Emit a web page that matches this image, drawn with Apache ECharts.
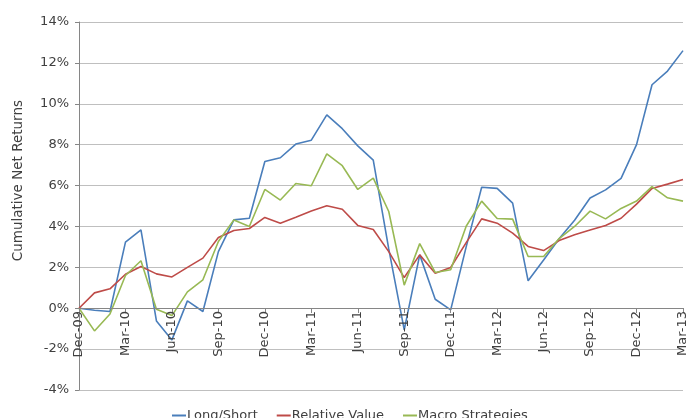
<!DOCTYPE html>
<html>
<head>
<meta charset="utf-8">
<script src="https://cdn.jsdelivr.net/npm/echarts@6/dist/echarts.min.js"></script>
<style>
  html, body { margin: 0; padding: 0; background: #fff; }
  #chart { width: 697px; height: 418px; }
</style>
</head>
<body>
<div id="chart"></div>
<script>
// meses (dic-09 a mar-13)
const months = [
  'Dec-09', 'Jan-10', 'Feb-10', 'Mar-10', 'Apr-10', 'May-10', 'Jun-10', 'Jul-10', 'Aug-10', 'Sep-10',
  'Oct-10', 'Nov-10', 'Dec-10', 'Jan-11', 'Feb-11', 'Mar-11', 'Apr-11', 'May-11', 'Jun-11', 'Jul-11',
  'Aug-11', 'Sep-11', 'Oct-11', 'Nov-11', 'Dec-11', 'Jan-12', 'Feb-12', 'Mar-12', 'Apr-12', 'May-12',
  'Jun-12', 'Jul-12', 'Aug-12', 'Sep-12', 'Oct-12', 'Nov-12', 'Dec-12', 'Jan-13', 'Feb-13', 'Mar-13'
];

// retornos acumulados (%)
const longShort = [
  0, -0.1, -0.16, 3.23, 3.83, -0.62, -1.55, 0.36, -0.16, 2.77,
  4.32, 4.40, 7.18, 7.36, 8.03, 8.22, 9.46, 8.78, 7.94, 7.24,
  2.9, -1.06, 2.61, 0.44, -0.08, 3.0, 5.92, 5.86, 5.14, 1.34,
  2.36, 3.4, 4.3, 5.39, 5.79, 6.35, 8.0, 10.93, 11.6, 12.6
];
const relativeValue = [
  0, 0.75, 0.95, 1.66, 2.04, 1.68, 1.53, 2.0, 2.45, 3.46,
  3.80, 3.90, 4.44, 4.16, 4.45, 4.76, 5.01, 4.84, 4.05, 3.85,
  2.77, 1.50, 2.61, 1.71, 1.99, 3.21, 4.37, 4.16, 3.67, 3.02,
  2.82, 3.31, 3.59, 3.83, 4.05, 4.40, 5.09, 5.86, 6.07, 6.30
];
const macroStrategies = [
  0, -1.11, -0.28, 1.60, 2.32, -0.05, -0.36, 0.80, 1.39, 3.26,
  4.32, 4.0, 5.81, 5.29, 6.10, 5.99, 7.55, 6.97, 5.81, 6.36,
  4.73, 1.13, 3.16, 1.75, 1.88, 4.01, 5.24, 4.39, 4.36, 2.53,
  2.53, 3.41, 4.0, 4.75, 4.37, 4.88, 5.24, 5.95, 5.40, 5.24
];

const seriesNames = ['Long/Short', 'Relative Value', 'Macro Strategies'];
const colors = ['#4a7ebb', '#be4b48', '#98b954'];

const font = 'DejaVu Sans';
const textColor = '#404040';

let chart = echarts.init(document.querySelector('#chart'));

function linea(name, data, color) {
  return {
    name: name,
    type: 'line',
    data: data,
    symbol: 'none',
    lineStyle: { color: color, width: 1.6 },
    itemStyle: { color: color },
    z: 3
  };
}

let option = {
  animation: false,
  color: colors,
  grid: { left: 79, right: 14, top: 22, bottom: 28, containLabel: false, outerBoundsMode: 'none' },
  legend: {
    left: 167,
    top: 404,
    icon: 'rect',
    itemWidth: 14,
    itemHeight: 2,
    itemGap: 19,
    textStyle: { fontFamily: font, fontSize: 13, color: textColor, padding: [0, 0, 0, -4] },
    data: seriesNames
  },
  graphic: [{
    type: 'text',
    left: 11,
    top: 100,
    rotation: Math.PI / 2,
    style: {
      text: 'Cumulative Net Returns',
      font: '13.5px "' + font + '"',
      fill: textColor
    }
  }],
  xAxis: {
    type: 'category',
    data: months,
    boundaryGap: false,
    // el eje de categorias cruza en 0%: se sube con offset
    offset: -82,
    z: 4,
    axisLine: { onZero: false, lineStyle: { color: '#868686', width: 1 } },
    axisTick: { interval: 2, length: 5, lineStyle: { color: '#868686' } },
    axisLabel: {
      interval: 2,
      rotate: 90,
      margin: 3,
      fontFamily: font,
      fontSize: 13,
      color: textColor
    },
    splitLine: { show: false }
  },
  yAxis: {
    type: 'value',
    min: -4,
    max: 14,
    interval: 2,
    axisLine: { show: true, lineStyle: { color: '#868686' } },
    axisTick: { show: true, length: 4, lineStyle: { color: '#868686' } },
    axisLabel: {
      formatter: '{value}%',
      margin: 10,
      fontFamily: font,
      fontSize: 13,
      color: textColor
    },
    splitLine: { show: true, lineStyle: { color: '#bfbfbf', width: 1 } }
  },
  series: [
    linea(seriesNames[0], longShort, colors[0]),
    linea(seriesNames[1], relativeValue, colors[1]),
    linea(seriesNames[2], macroStrategies, colors[2])
  ]
};

chart.setOption(option);
</script>
</body>
</html>
